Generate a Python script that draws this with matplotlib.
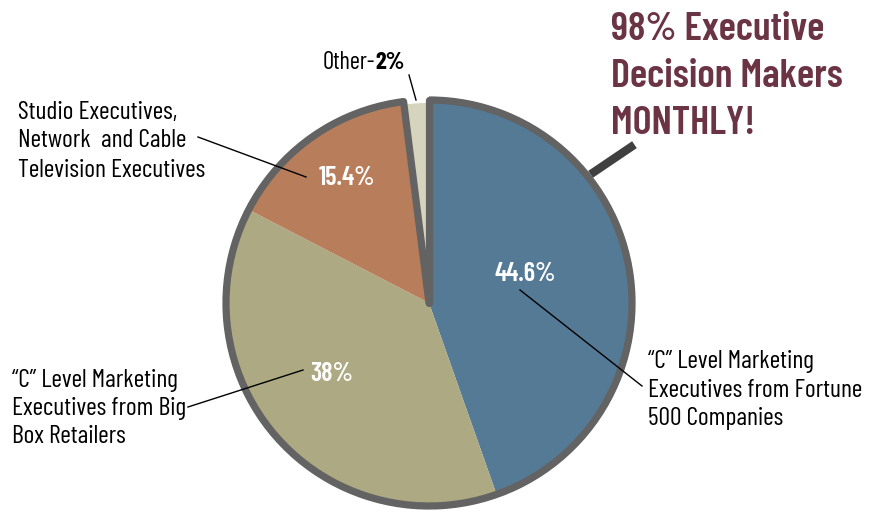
import numpy as np
import matplotlib
matplotlib.use("Agg")
import matplotlib.pyplot as plt
from matplotlib.patches import Arc

# slices, clockwise from 12 o'clock
shares = [44.6, 38, 15.4, 2]
pct_labels = ["44.6%", "38%", "15.4%"]
colors = ["#557a95", "#ada982", "#b87e5c", "#d6d4bc"]
names = [['\u201cC\u201d Level Marketing', 'Executives from Fortune', '500 Companies'],
         ['\u201cC\u201d Level Marketing', 'Executives from Big', 'Box Retailers'],
         ['Studio Executives,', 'Network  and Cable', 'Television Executives']]
title_lines = ["98% Executive", "Decision Makers", "MONTHLY!"]

W, H = 885, 513
border = "#636363"
font = ["Barlow Condensed", "DejaVu Sans"]

fig = plt.figure(figsize=(W / 100, H / 100), dpi=100)
ax = fig.add_axes([0, 0, 1, 1])

def Y(y):
    # picture rows are counted from the top
    return H - y

cx, cy, R = 429, Y(303), 206
wedges, _ = ax.pie(shares, colors=colors, startangle=90, counterclock=False,
                   center=(cx, cy), radius=R, frame=True,
                   wedgeprops=dict(linewidth=0))
wedges[3].set_radius(R - 6)
ax.set_xlim(0, W)
ax.set_ylim(0, H)
ax.set_aspect("equal")
ax.axis("off")

# outline: outer arc (skipping "Other") and the two radial edges
a_end = 90 + 360 * shares[3] / 100   # orange right edge
lw = 5.2
ax.add_patch(Arc((cx, cy), 2 * (R - 3), 2 * (R - 3), theta1=a_end, theta2=450,
                 color=border, lw=lw, zorder=3))
for ang in (90, a_end):
    t = np.deg2rad(ang)
    ax.plot([cx, cx + (R - 3) * np.cos(t)], [cy, cy + (R - 3) * np.sin(t)],
            color=border, lw=lw, solid_capstyle="round", zorder=3)

# percentages inside
pct_pos = [(525, 281), (332, 381), (347, 185)]
for s, (x, y) in zip(pct_labels, pct_pos):
    ax.text(x, Y(y), s, color="white", fontsize=19, fontweight="semibold",
            family=font, ha="center", va="baseline", zorder=4)

# outside labels with leader lines
lab_x = [648, 12, 18]
lab_y = [[368, 397, 425], [387, 415, 443], [119, 147, 177]]
leaders = [((520, 290), (642, 386)), ((303, 370), (188, 407)), ((306, 177), (198, 137))]
for lines, x, ys, (p0, p1) in zip(names, lab_x, lab_y, leaders):
    for s, y in zip(lines, ys):
        ax.text(x, Y(y), s, fontsize=18.5, family=font, ha="left", va="baseline",
                color="black")
    ax.plot([p0[0], p1[0]], [Y(p0[1]), Y(p1[1])], color="black", lw=1, zorder=5)

t_other = ax.text(323, Y(69), "Other-", fontsize=17.5, family=font,
                  ha="left", va="baseline")
ax.annotate("2%", xy=(1, 0), xycoords=t_other, fontsize=17.5, family=font,
            fontweight="bold", ha="left", va="bottom")
ax.plot([409, 416], [Y(75), Y(100)], color="black", lw=1, zorder=5)

# headline
for i, s in enumerate(title_lines):
    ax.text(611, Y(40 + 47 * i), s, fontsize=29, fontweight="semibold", family=font,
            color="#6b3444", ha="left", va="baseline")
ax.plot([594, 631], [Y(172), Y(147)], color="#404040", lw=6, zorder=2)

fig.savefig("out.png", dpi=100)
